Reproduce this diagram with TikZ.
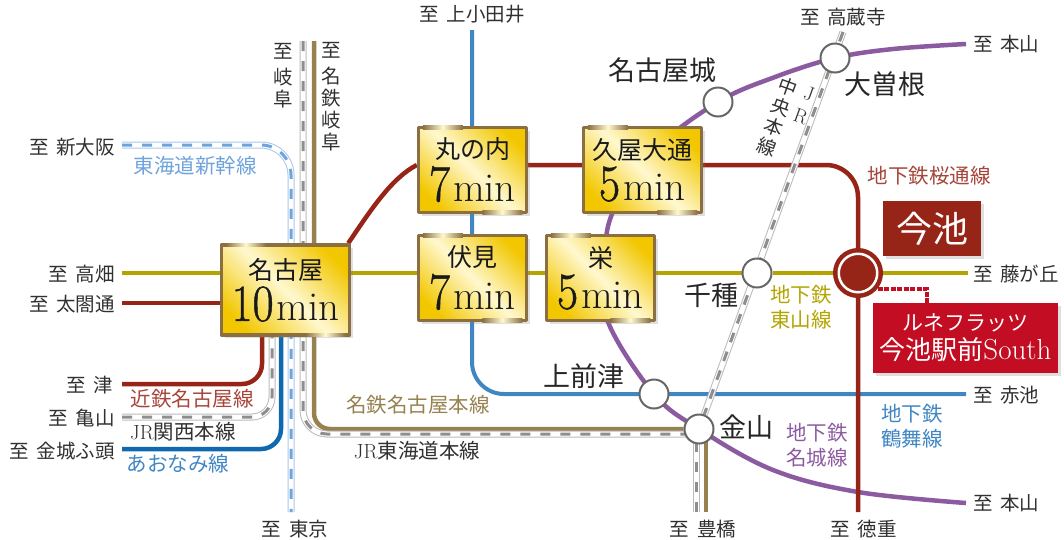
\documentclass[tikz,border=0pt]{standalone}
\usepackage{fontspec}
\usepackage{graphicx}
\usetikzlibrary{backgrounds,shadows}
\newfontfamily\cjk{Noto Sans CJK JP}
\newfontfamily\didone[FakeBold=1]{Latin Modern Roman}
\definecolor{goldc}{HTML}{F2C700}
\definecolor{palec}{HTML}{FFF8CF}
\definecolor{framec}{HTML}{8B6F42}
\definecolor{higac}{HTML}{B3A400}
\definecolor{sakuc}{HTML}{962417}
\definecolor{kintc}{HTML}{962417}
\definecolor{meijc}{HTML}{8C5AA0}
\definecolor{tsurc}{HTML}{3F86C2}
\definecolor{aonac}{HTML}{1068AE}
\definecolor{meitc}{HTML}{97814F}
\definecolor{shinc}{HTML}{6FA3DC}
\definecolor{railc}{HTML}{8E8E8E}
\definecolor{renec}{HTML}{C30D23}
\definecolor{inkc}{HTML}{333030}
\pgfdeclareverticalshading{goldband}{100bp}{color(0bp)=(goldc); color(24bp)=(goldc); color(50bp)=(palec); color(76bp)=(goldc); color(100bp)=(goldc)}
\newcommand{\itaru}{至\hspace{.4em}}
\newcommand{\stname}[1]{{\cjk\fontsize{25}{25}\selectfont #1}}
\newcommand{\mins}[1]{{\didone\fontsize{52}{52}\selectfont\scalebox{.88}[1]{#1}}\hspace{3pt}{\fontsize{41}{41}\selectfont min}}
\tikzset{
	dest/.style={inner sep=0pt,text=inkc,font=\cjk\fontsize{19.5}{22}\selectfont},
	linelbl/.style={inner sep=0pt,align=center,font=\cjk\fontsize{20.5}{25}\selectfont},
	bigname/.style={inner sep=0pt,text=black!85,font=\cjk\fontsize{27}{30}\selectfont},
	stn/.style={circle,draw=black!60,fill=white,line width=2pt,minimum size=29,inner sep=0pt},
	goldbox/.style={rectangle,draw=framec,line width=3.5pt,shading=goldband,shading angle=-45,
		align=center,inner sep=0pt,text=black!90,
		drop shadow={opacity=.25,shadow xshift=3pt,shadow yshift=-3pt}},
	redbox/.style={rectangle,text=white,align=center,inner sep=0pt,
		drop shadow={opacity=.25,shadow xshift=2.5pt,shadow yshift=-2.5pt}},
	rail/.style={draw=#1!60,line width=7pt,line cap=butt,
		postaction={draw=white,line width=5pt},
		postaction={draw=#1,line width=3pt,dash pattern=on 10pt off 10pt}},
	line/.style={draw=#1,line width=4.5pt,line cap=butt}
}
\begin{document}
\begin{tikzpicture}[x=1pt,y=-1pt,line join=round]
	\useasboundingbox (0,0) rectangle (1064,539);
	\node[goldbox,minimum width=128,minimum height=90] (nagoya) at (285.5,290) {\stname{名古屋}\\[4pt]\mins{10}};
	\node[goldbox,minimum width=108,minimum height=85] (maru) at (472.5,170) {\stname{丸の内}\\[4pt]\mins{7}};
	\node[goldbox,minimum width=108,minimum height=85] (fushimi) at (472.5,278) {\stname{伏見}\\[4pt]\mins{7}};
	\node[goldbox,minimum width=108,minimum height=85] (sakae) at (600.5,278) {\stname{栄}\\[4pt]\mins{5}};
	\node[goldbox,minimum width=118,minimum height=85] (hisaya) at (642.5,170) {\stname{久屋大通}\\[4pt]\mins{5}};
	\foreach \b in {nagoya,maru,fushimi,sakae,hisaya}{
		\shade[left color=framec,right color=framec,middle color=palec] ([xshift=6pt,yshift=-3.5pt]\b.north west) rectangle ([xshift=46pt]\b.north west);
		\shade[left color=framec,right color=framec,middle color=palec] ([xshift=-46pt]\b.south east) rectangle ([xshift=-6pt,yshift=3.5pt]\b.south east);
	}
	\foreach \n/\x/\y in {meijojo/718/102,ozone/835/58,chikusa/757/273,kamimae/654/394,kanayama/699/429}{
		\node[stn] (\n) at (\x,\y) {};
	}
	\node[circle,fill=sakuc,draw=sakuc,line width=4.5pt,double=white,double distance=2.5pt,minimum size=38.5,inner sep=0pt] (imaike) at (858,273) {};
	\node[redbox,fill=sakuc,minimum width=98,minimum height=55,font=\cjk\fontsize{36}{36}\selectfont] (imaikebox) at (932,228.5) {今池};
	\node[redbox,fill=renec,minimum width=185,minimum height=70,font=\cjk\fontsize{26}{29}\selectfont] (rene) at (965.5,338) {{\fontsize{21}{29}\selectfont ルネフラッツ}\\今池駅前{\rmfamily\fontsize{29}{29}\selectfont South}};
	\foreach \n/\x/\y in {takabata/122/273,taiko/122/303,tsu/122/384,kameyama/122/417,kinjo/122/449,osaka/122/145,gifu/303/41,meigifu/314/41,tokyo/291/512,
		toyoJR/696/512,toyoMT/706/512,kamiotai/472/30,kozoji/843/32,hon1/966/44,hon2/966/503,fuji/968/273,akaike/966/394,toku/858/512}{
		\coordinate (\n) at (\x,\y);
	}
	\foreach \n/\x/\y/\t in {lbOsaka/115/147/新大阪,lbTaka/115/274/高畑,lbTaiko/115/304/太閤通,lbTsu/113/385/津,lbKame/115/418/亀山,lbKinjo/115/451/金城ふ頭}{
		\node[dest,anchor=east] (\n) at (\x,\y) {\itaru\t};
	}
	\foreach \n/\y/\t in {lbHon1/44/本山,lbFuji/274/藤が丘,lbAka/395/赤池,lbHon2/503/本山}{
		\node[dest,anchor=west] (\n) at (973,\y) {\itaru\t};
	}
	\foreach \n/\x/\y/\t in {lbKami/472/14/上小田井,lbKozo/843/17/高蔵寺,lbTokyo/295/529/東京,lbToyo/703/529/豊橋,lbToku/863.5/529/徳重}{
		\node[dest] (\n) at (\x,\y) {\itaru\t};
	}
	\node[dest,align=center] (lbGifu) at (283,76) {至\\[4pt]岐\\阜};
	\node[dest,align=center] (lbMeigifu) at (331,97) {至\\[4pt]名\\鉄\\岐\\阜};
	\node[bigname] (lbMeijojo) at (662,70) {名古屋城};
	\node[bigname] (lbOzone) at (885,84) {大曽根};
	\node[bigname] (lbChikusa) at (711,295) {千種};
	\node[bigname] (lbKamimae) at (584,376) {上前津};
	\node[bigname] (lbKanayama) at (746,427) {金山};
	\node[linelbl,text=shinc] (lbShin) at (195,166) {東海道新幹線};
	\node[linelbl,text=sakuc!85!white] (lbKint) at (192,399) {近鉄名古屋線};
	\node[linelbl,text=inkc] (lbKans) at (183,432) {{\rmfamily JR}関西本線};
	\node[linelbl,text=tsurc] (lbAona) at (178,464) {あおなみ線};
	\node[linelbl,text=meitc] (lbMeit) at (418,405) {名鉄名古屋本線};
	\node[linelbl,text=inkc] (lbToka) at (417,451) {{\rmfamily JR}東海道本線};
	\node[linelbl,text=sakuc!85!white] (lbSaku) at (929,176) {地下鉄桜通線};
	\node[linelbl,text=higac] (lbHiga) at (801,307.5) {地下鉄\\東山線};
	\node[linelbl,text=meijc] (lbMeij) at (817,445.5) {地下鉄\\名城線};
	\node[linelbl,text=tsurc] (lbTsur) at (912,426.5) {地下鉄\\鶴舞線};
	\node[linelbl,rotate=-20,text=inkc,font=\cjk\fontsize{19}{21}\selectfont] (lbChuo) at (777.5,117) {中\\央\\本\\線};
	\node[linelbl,rotate=-20,text=inkc,font=\rmfamily\fontsize{20}{24}\selectfont] (lbChuoJR) at (805,105) {J\\R};
	\begin{scope}[on background layer]
		\draw[line=meijc] plot[smooth,tension=.6] coordinates {(hon1) (893,49) (ozone.center) (775,77) (meijojo.center) (655,150) (612,214) (605,270) (608,322) (kamimae.center) (kanayama.center) (773,470) (858,492) (hon2)};
		\draw[line=tsurc,line width=4pt,rounded corners=32] (kamiotai) -- (kamiotai |- akaike) -- (akaike);
		\draw[line=higac] (takabata) -- (chikusa) -- (imaike) -- (fuji);
		\draw[line=sakuc] (taiko) -- (taiko -| nagoya.west);
		\coordinate (sakucorner) at (858,165);
		\draw[line=sakuc,rounded corners=32] (maru.west |- sakucorner) -- (sakucorner) -- (toku);
		\draw[line=sakuc] ([xshift=-3pt]nagoya.north east) .. controls (372,208) and (392,178) .. (maru.west |- sakucorner);
		\draw[line=kintc,rounded corners=20] (tsu) -- (262,384) -- (262,290);
		\draw[line=aonac,rounded corners=20] (kinjo) -- (281,449) -- (281,290);
		\draw[line=meitc,rounded corners=16] (meigifu) -- (meigifu |- kanayama.west) -- (kanayama);
		\draw[line=meitc] (toyoMT) -- (toyoMT |- kanayama);
		\draw[rail=railc,rounded corners=20] (kameyama) -- (272,417) -- (272,290);
		\draw[rail=railc,rounded corners=24] (gifu) -- (303,434) -- (699,434);
		\draw[rail=railc] (toyoJR) -- (toyoJR |- kanayama);
		\draw[rail=railc] (kozoji) -- (kanayama);
		\draw[rail=shinc,rounded corners=30] (osaka) -- (291,145) -- (tokyo);
		\coordinate (renecnr) at (927,289);
		\draw[draw=renec,line width=3.5pt,dash pattern=on 5pt off 1.5pt] (renecnr -| imaike) -- (renecnr) -- (renecnr |- rene.north);
	\end{scope}
\end{tikzpicture}
\end{document}
